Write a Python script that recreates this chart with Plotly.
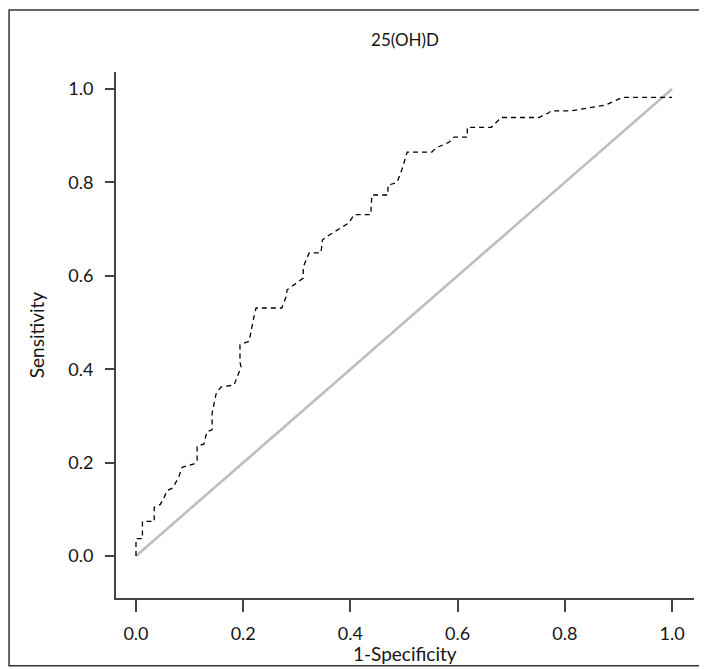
import plotly.graph_objects as go

# ROC curve (1-Specificity, Sensitivity)
fpr = [0.0, 0.0, 0.012, 0.012, 0.034, 0.034, 0.045, 0.052, 0.058, 0.069, 0.080, 0.086,
       0.108, 0.114, 0.114, 0.127, 0.132, 0.142, 0.142, 0.150, 0.159, 0.183, 0.196, 0.194,
       0.194, 0.211, 0.220, 0.224, 0.272, 0.280, 0.282, 0.312, 0.312, 0.323, 0.345, 0.348,
       0.360, 0.397, 0.407, 0.438, 0.440, 0.444, 0.470, 0.470, 0.487, 0.496, 0.506, 0.552,
       0.560, 0.584, 0.593, 0.618, 0.618, 0.663, 0.668, 0.677, 0.681, 0.752, 0.757, 0.770,
       0.774, 0.810, 0.877, 0.900, 0.907, 1.000]
tpr = [0.0, 0.037, 0.037, 0.074, 0.074, 0.104, 0.110, 0.124, 0.140, 0.146, 0.170, 0.190,
       0.197, 0.205, 0.235, 0.240, 0.266, 0.270, 0.306, 0.350, 0.362, 0.366, 0.405, 0.415,
       0.452, 0.460, 0.512, 0.531, 0.531, 0.555, 0.570, 0.595, 0.619, 0.649, 0.649, 0.677,
       0.687, 0.713, 0.731, 0.731, 0.773, 0.773, 0.773, 0.794, 0.800, 0.827, 0.865, 0.865,
       0.874, 0.886, 0.897, 0.897, 0.918, 0.918, 0.923, 0.934, 0.939, 0.939, 0.942, 0.949,
       0.953, 0.953, 0.966, 0.979, 0.982, 0.982]
diag = [0.0, 1.0]
x_ticks = [0.0, 0.2, 0.4, 0.6, 0.8, 1.0]
y_ticks = [0.0, 0.2, 0.4, 0.6, 0.8, 1.0]
tick_text = ["0.0", "0.2", "0.4", "0.6", "0.8", "1.0"]

FONT = "Lato"
TXT = "#151515"

fig = go.Figure()
fig.add_trace(go.Scatter(x=diag, y=diag, mode="lines",
                         line=dict(color="#BEBEBE", width=2.6), hoverinfo="skip"))
fig.add_trace(go.Scatter(x=fpr, y=tpr, mode="lines",
                         line=dict(color="black", width=1.3, dash="5px,4px")))

axis_common = dict(showgrid=False, zeroline=False, showline=True, linecolor="#444",
                   linewidth=2, ticks="outside", tickcolor="#444", tickwidth=1.5,
                   tickfont=dict(family=FONT, size=18, color=TXT))

# page body adds an 8px offset; plot area spans 108..686 x 64..590 in figure pixels
fig.update_layout(
    width=707, height=669,
    margin=dict(l=108, r=21, t=64, b=79),
    paper_bgcolor="white", plot_bgcolor="white",
    showlegend=False,
    xaxis=dict(range=[-0.0373, 1.041], tickvals=x_ticks, ticktext=tick_text,
               ticklen=12, ticklabelstandoff=6, **axis_common),
    yaxis=dict(range=[-42 / 467, 484 / 467], tickvals=y_ticks, ticktext=tick_text,
               ticklen=9, ticklabelstandoff=8, **axis_common),
    title=dict(text="25(OH)D", x=0.5, xref="paper", xanchor="center",
               y=1 - 32 / 669, yref="container", yanchor="middle",
               font=dict(family=FONT, size=17, color=TXT)),
    annotations=[
        dict(text="1-Specificity", xref="paper", yref="paper", x=0.5, y=-0.106,
             xanchor="center", yanchor="middle", showarrow=False,
             font=dict(family=FONT, size=19, color=TXT)),
        dict(text="Sensitivity", xref="paper", yref="paper", x=-0.138, y=0.5,
             xanchor="center", yanchor="middle", textangle=-90, showarrow=False,
             font=dict(family=FONT, size=19, color=TXT)),
    ],
    shapes=[dict(type="rect", xref="paper", yref="paper",
                 x0=-0.185, x1=1.019, y0=-0.129, y1=1.118,
                 line=dict(color="#333", width=1.5), layer="below")],
)

fig.write_html("out.html")
